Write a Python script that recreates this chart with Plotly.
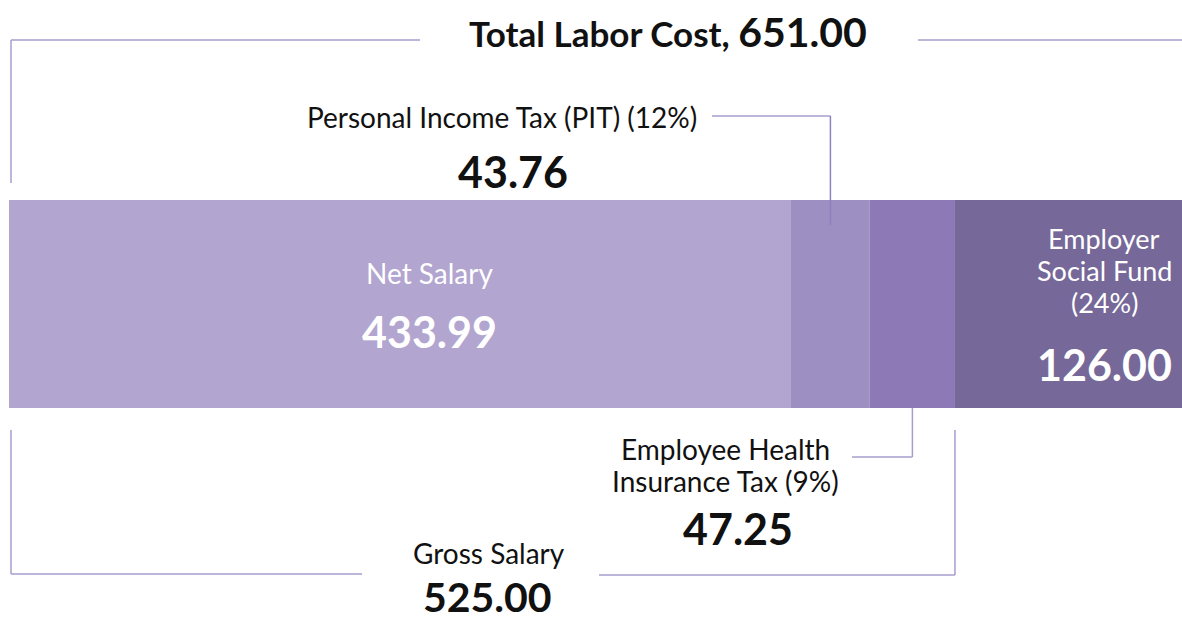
import plotly.graph_objects as go

# ---- data ----
segments = ["Net Salary", "Personal Income Tax (PIT) (12%)",
            "Employee Health Insurance Tax (9%)", "Employer Social Fund (24%)"]
values = [433.99, 43.76, 47.25, 126.00]
colors = ["#b2a5cf", "#9d8fc1", "#8c79b5", "#766898"]
total_label = "Total Labor Cost, "
total_value = 651.00
gross_label = "Gross Salary"
gross_value = 525.00

W, H = 1182, 623
X0, X1 = 9, 1182          # bar pixel extent
BT, BB = 200, 408          # bar top/bottom pixel
scale = (X1 - X0) / total_value
xr = [-X0 / scale, total_value]
ppu = BB - BT
yr = [-0.5 - (H - BB) / ppu, 0.5 + BT / ppu]

def dx(px):
    return (px - X0) / scale

def dy(py):
    return 0.5 - (py - BT) / ppu

FONT = "Lato"
LINE = "#a99dcf"
TXT = "#111111"

fig = go.Figure()
base = 0
for name, v, c in zip(segments, values, colors):
    fig.add_trace(go.Bar(x=[v], y=[0], base=[base], orientation="h", width=1,
                         marker=dict(color=c, line=dict(width=0)), name=name,
                         hoverinfo="name+x", showlegend=False))
    base += v

cum = [sum(values[:i]) for i in range(len(values) + 1)]
pit_mid = (cum[1] + cum[2]) / 2
hlt_mid = (cum[2] + cum[3]) / 2

shapes = []
def seg(x0, y0, x1, y1, color=LINE, w=1.5):
    shapes.append(dict(type="line", xref="x", yref="y", x0=x0, y0=y0, x1=x1, y1=y1,
                       line=dict(color=color, width=w)))

# total bracket
seg(dx(11), dy(183), dx(11), dy(40))
seg(dx(11), dy(40), dx(420), dy(40))
seg(dx(918), dy(40), total_value, dy(40))
# PIT connector
seg(dx(712), dy(116), pit_mid, dy(116))
seg(pit_mid, dy(116), pit_mid, dy(225), color="#8f80c0")
# Health connector
seg(hlt_mid, dy(408), hlt_mid, dy(457))
seg(hlt_mid, dy(457), dx(852), dy(457))
# Gross bracket
seg(dx(11), dy(430), dx(11), dy(574))
seg(dx(11), dy(574), dx(362), dy(574))
seg(dx(599), dy(575), gross_value, dy(575))
seg(gross_value, dy(575), gross_value, dy(430))

ann = []
def txt(text, px, py, size, color=TXT, bold=False):
    t = f"<b>{text}</b>" if bold else text
    ann.append(dict(text=t, x=dx(px), y=dy(py), xref="x", yref="y", showarrow=False,
                    xanchor="center", yanchor="middle",
                    font=dict(family=FONT, size=size, color=color)))

txt(f"{total_label}<span style='font-size:41px'>{total_value:.2f}</span>", 668, 31, 35, bold=True)
txt(segments[1], 502, 117, 28)
txt(f"{values[1]:.2f}", 513, 171, 43, bold=True)
txt(segments[0], 429, 273, 28, color="white")
txt(f"{values[0]:.2f}", 429, 331, 43, color="white", bold=True)
txt("Employer", 1104, 238, 27, color="white")
txt("Social Fund", 1104, 270, 27, color="white")
txt("(24%)", 1104, 302, 27, color="white")
txt(f"{values[3]:.2f}", 1104, 364, 43, color="white", bold=True)
txt("Employee Health", 725, 449, 28)
txt("Insurance Tax (9%)", 725, 481, 28)
txt(f"{values[2]:.2f}", 738, 528, 43, bold=True)
txt(gross_label, 489, 553, 28)
txt(f"{gross_value:.2f}", 487, 596, 41, bold=True)

fig.update_layout(
    width=W, height=H, margin=dict(l=0, r=0, t=0, b=0),
    paper_bgcolor="white", plot_bgcolor="white",
    barmode="overlay", shapes=shapes, annotations=ann,
    xaxis=dict(range=xr, visible=False, fixedrange=True),
    yaxis=dict(range=yr, visible=False, fixedrange=True),
    font=dict(family=FONT),
)
fig.write_html("out.html", config={"displayModeBar": False},
               post_script="document.body.style.margin='0';document.body.style.overflow='hidden';")
